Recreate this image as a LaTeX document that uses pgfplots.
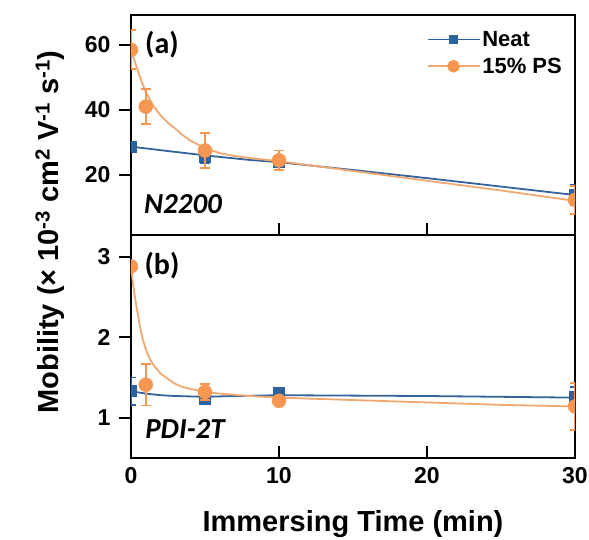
\documentclass[border=0pt]{standalone}
\usepackage{pgfplots}
\pgfplotsset{compat=1.18}
\usepackage{fontspec}
\setmainfont{Liberation Sans}
\newfontfamily\calfont{Carlito}
\definecolor{cblue}{RGB}{44,98,160}
\definecolor{corange}{RGB}{246,150,80}
\definecolor{cfit}{RGB}{240,168,112}
\definecolor{cbfit}{RGB}{52,100,155}

\pgfplotsset{
  panel/.style={
    width=444pt, scale only axis, xmin=0, xmax=30,
    clip marker paths=true,
    axis line style={line width=2.2pt},
    every tick/.style={black, line width=2.2pt},
    major tick length=12pt,
    xtick pos=bottom, xtick align=inside,
    ytick pos=left, ytick align=outside,
    tick label style={font=\fontsize{23}{27}\selectfont\bfseries},
    /pgf/number format/assume math mode=true,
    yticklabel style={xshift=-5pt},
    xticklabel style={yshift=-6pt},
  },
  neat/.style={only marks, mark=square*, mark size=5.5pt, color=cblue,
    error bars/y dir=both, error bars/y explicit,
    error bars/error bar style={line width=1.6pt, cblue},
    error bars/error mark options={rotate=90, mark size=5pt, line width=1.6pt, cblue}},
  ps/.style={only marks, mark=*, mark size=7pt, color=corange,
    error bars/y dir=both, error bars/y explicit,
    error bars/error bar style={line width=1.6pt, corange},
    error bars/error mark options={rotate=90, mark size=5pt, line width=1.6pt, corange}},
  legend image code/.code={\draw[mark repeat=2,mark phase=2] plot coordinates {(0pt,0pt) (26pt,0pt) (52pt,0pt)};},
}

\pgfplotstableread{
x y e
0 28.7 1.5
5 25.6 2.0
10 24.0 1.5
30 13.8 3.0
}\topneat
\pgfplotstableread{
x y e
0 58.5 6.0
1 41.0 5.4
5 27.5 5.3
10 24.5 3.0
30 12.3 4.3
}\topps
\pgfplotstableread{
x y e
0 1.33 0.17
5 1.24 0.05
10 1.31 0.06
30 1.26 0.12
}\botneat
\pgfplotstableread{
x y e
0 2.88 0.02
1 1.41 0.26
5 1.32 0.10
10 1.21 0.03
30 1.14 0.29
}\botps

\begin{document}
\begin{tikzpicture}
\path[use as bounding box] (-131pt,-81pt) rectangle (458pt,458pt);
% top panel
\begin{axis}[panel, at={(0pt,223pt)}, anchor=south west, height=220pt,
  ymin=1.5, ymax=69.2, ytick={20,40,60}, xtick={10,20}, xticklabels={},
  legend style={draw=none, fill=none, at={(axis description cs:1,1)}, anchor=north east,
    xshift=-8pt, yshift=-12pt, font=\fontsize{22}{26}\selectfont\bfseries,
    row sep=6pt, cells={anchor=west}},
  ]
\addplot[cbfit, line width=1.8pt, forget plot] coordinates {
(0,28.7)(2,27.6)(5,26.0)(8,24.6)(10,23.9)(15,21.5)(20,19.0)(25,16.4)(30,13.8)};
\addplot[cfit, line width=1.8pt, forget plot] coordinates {
(0,58.5)(0.25,55.0)(0.5,51.5)(0.75,48.3)(1,45.5)(1.5,41.3)(2,38.3)(2.5,36.0)(3,34.2)
(3.5,32.2)(4,30.6)(5,28.2)(6,26.7)(7,25.8)(8,25.2)(10,24.2)(15,21.2)(20,18.2)(25,15.2)(30,12.0)};
\addplot[forget plot, neat] table[x=x, y=y, y error=e] {\topneat};
\addplot[forget plot, ps] table[x=x, y=y, y error=e] {\topps};
\addlegendimage{cblue, line width=1.6pt, mark=square*, mark size=4pt}
\addlegendentry{Neat}
\addlegendimage{cfit, line width=1.6pt, mark=*, mark size=5.5pt, mark options={fill=corange, draw=corange}}
\addlegendentry{15\% PS}
\end{axis}
% bottom panel
\begin{axis}[panel, at={(0pt,0pt)}, anchor=south west, height=223pt,
  ymin=0.5, ymax=3.27, ytick={1,2,3}, xtick={0,10,20,30},
  xlabel={Immersing Time (min)},
  xlabel style={at={(axis description cs:0.5,0)}, anchor=base, yshift=-73pt,
    font=\fontsize{29}{34}\selectfont\bfseries},
  ]
\addplot[cbfit, line width=1.8pt] coordinates {
(0,1.33)(1,1.30)(2,1.28)(3,1.27)(5,1.26)(7,1.27)(10,1.28)(20,1.27)(30,1.25)};
\addplot[cfit, line width=1.8pt] coordinates {
(0,2.88)(0.1,2.72)(0.2,2.58)(0.3,2.46)(0.4,2.35)(0.5,2.25)(0.6,2.14)(0.8,1.97)(1,1.85)
(1.25,1.74)(1.5,1.66)(2,1.55)(2.5,1.48)(3,1.42)(3.5,1.38)(4,1.36)(5,1.32)(6,1.30)
(8,1.27)(10,1.25)(15,1.22)(20,1.19)(25,1.16)(30,1.14)};
\addplot[neat] table[x=x, y=y, y error=e] {\botneat};
\addplot[ps] table[x=x, y=y, y error=e] {\botps};
\end{axis}
\node[rotate=90, font=\fontsize{29}{34}\selectfont\bfseries] at (-81pt,226pt)
  {Mobility (× 10\textsuperscript{-3} cm\textsuperscript{2} V\textsuperscript{-1} s\textsuperscript{-1})};
\node[font=\calfont\fontsize{30}{34}\selectfont\bfseries] at (31pt,413pt) {(a)};
\node[font=\calfont\fontsize{29}{33}\selectfont\bfseries\itshape] at (52pt,254pt) {N2200};
\node[font=\calfont\fontsize{30}{34}\selectfont\bfseries] at (31pt,192pt) {(b)};
\node[font=\calfont\fontsize{29}{33}\selectfont\bfseries\itshape] at (54pt,29pt) {PDI-2T};
\end{tikzpicture}
\end{document}
